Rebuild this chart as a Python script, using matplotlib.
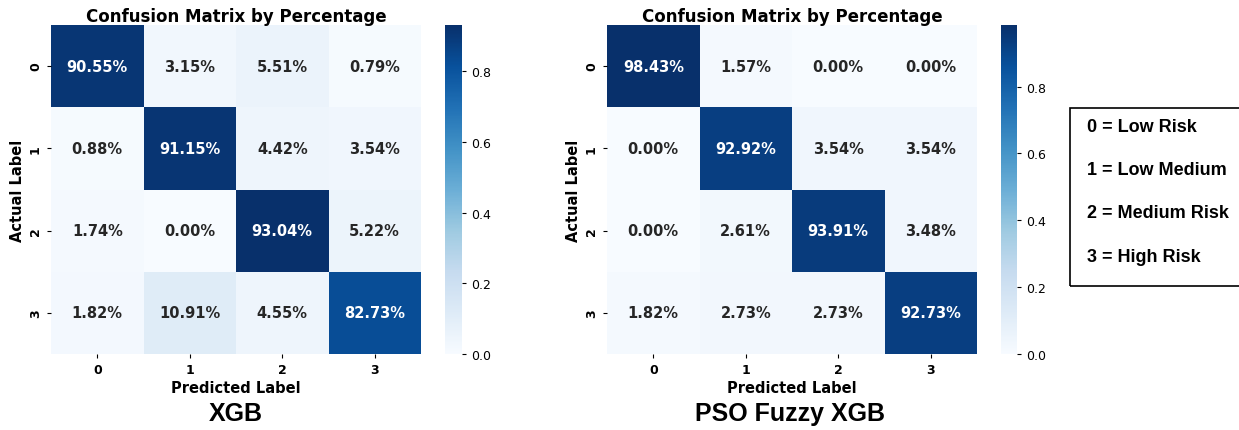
import numpy as np
import matplotlib
matplotlib.use('Agg')
import matplotlib.pyplot as plt
from matplotlib.patches import Rectangle
import seaborn as sns

# confusion matrices (row = actual, col = predicted), as fractions
labels = ['0', '1', '2', '3']
cm_xgb = np.array([
    [0.9055, 0.0315, 0.0551, 0.0079],
    [0.0088, 0.9115, 0.0442, 0.0354],
    [0.0174, 0.0000, 0.9304, 0.0522],
    [0.0182, 0.1091, 0.0455, 0.8273],
])
cm_pso = np.array([
    [0.9843, 0.0157, 0.0000, 0.0000],
    [0.0000, 0.9292, 0.0354, 0.0354],
    [0.0000, 0.0261, 0.9391, 0.0348],
    [0.0182, 0.0273, 0.0273, 0.9273],
])
model_names = ['XGB', 'PSO Fuzzy XGB']
legend_lines = ['0 = Low Risk', '1 = Low Medium', '2 = Medium Risk', '3 = High Risk']

W, H = 1239, 431
fig = plt.figure(figsize=(W / 100, H / 100), dpi=100)


def px(x0, y0, x1, y1):
    """pixel box (top-left origin) -> figure rect"""
    return [x0 / W, 1 - y1 / H, (x1 - x0) / W, (y1 - y0) / H]


panels = [
    (cm_xgb, px(51, 26, 421, 355), px(445, 26, 462, 355), 236),
    (cm_pso, px(607, 26, 977, 355), px(1001, 26, 1017, 355), 790),
]

for (cm, ax_rect, cb_rect, cx), name in zip(panels, model_names):
    ax = fig.add_axes(ax_rect)
    cax = fig.add_axes(cb_rect)
    annot = np.array([[f"{v * 100:.2f}%" for v in row] for row in cm])
    sns.heatmap(cm, ax=ax, cbar_ax=cax, cmap='Blues', annot=annot, fmt='',
                annot_kws={'fontsize': 10.5, 'fontweight': 'bold'},
                xticklabels=labels, yticklabels=labels)
    ax.set_title('Confusion Matrix by Percentage', fontsize=12, fontweight='bold', pad=3)
    ax.set_xlabel('Predicted Label', fontsize=10.5, fontweight='bold', labelpad=3)
    ax.set_ylabel('Actual Label', fontsize=10.5, fontweight='bold', labelpad=3)
    ax.tick_params(axis='both', labelsize=9, length=3)
    for t in ax.get_xticklabels() + ax.get_yticklabels():
        t.set_fontweight('bold')
    plt.setp(ax.get_yticklabels(), rotation=90, va='center')
    cax.set_yticks([0.0, 0.2, 0.4, 0.6, 0.8])
    cax.tick_params(labelsize=9, length=3)
    fig.text(cx / W, 1 - 414 / H, name, ha='center', va='center',
             fontsize=18, fontfamily='Liberation Sans', fontweight='bold')

# class legend box on the right
fig.patches.append(Rectangle((1070 / W, 1 - 287 / H), 200 / W, 178 / H,
                             transform=fig.transFigure, fill=False,
                             edgecolor='black', linewidth=1.2))
for i, line in enumerate(legend_lines):
    fig.text(1087 / W, 1 - (128 + 43 * i) / H, line, ha='left', va='center',
             fontsize=13, fontfamily='Liberation Sans', fontweight='bold')

fig.savefig('out.png', dpi=100)
